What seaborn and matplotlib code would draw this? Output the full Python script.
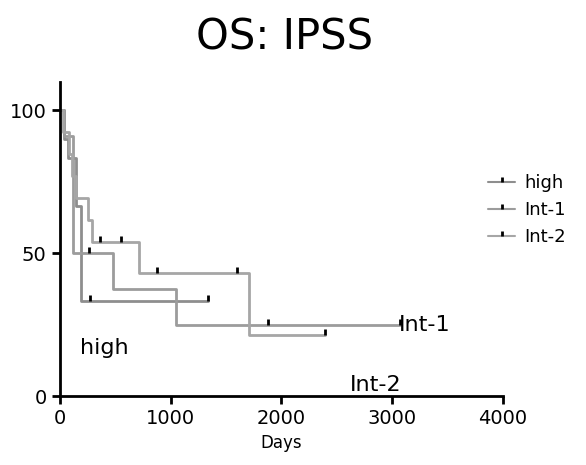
import numpy as np
import pandas as pd
import seaborn as sns
import matplotlib
matplotlib.use('Agg')
import matplotlib.pyplot as plt
from matplotlib.lines import Line2D

# step points (days, % survival)
high_days = [0, 35, 70, 150, 190, 1340]
high_surv = [100, 90, 83.3, 66.7, 33.3, 33.3]
high_cens_days = [277, 1340]
high_cens_surv = [33.3, 33.3]

int1_days = [0, 40, 115, 480, 1050, 3070]
int1_surv = [100, 91, 50, 37.5, 25, 25]
int1_cens_days = [265, 1880, 3070]
int1_cens_surv = [50, 25, 25]

int2_days = [0, 30, 80, 110, 150, 253, 290, 716, 1707, 2393]
int2_surv = [100, 92.3, 84.6, 76.9, 69.2, 61.5, 53.8, 43.1, 21.5, 21.5]
int2_cens_days = [361, 557, 879, 1604, 2393]
int2_cens_surv = [53.8, 53.8, 43.1, 43.1, 21.5]

groups = ['high', 'Int-1', 'Int-2']
colors = ['#8e8e8e', '#9c9c9c', '#a6a6a6']

df = pd.concat([
    pd.DataFrame({'days': high_days, 'surv': high_surv, 'group': 'high'}),
    pd.DataFrame({'days': int1_days, 'surv': int1_surv, 'group': 'Int-1'}),
    pd.DataFrame({'days': int2_days, 'surv': int2_surv, 'group': 'Int-2'}),
])
cens = pd.concat([
    pd.DataFrame({'days': high_cens_days, 'surv': high_cens_surv}),
    pd.DataFrame({'days': int1_cens_days, 'surv': int1_cens_surv}),
    pd.DataFrame({'days': int2_cens_days, 'surv': int2_cens_surv}),
])

sns.set_style('ticks')
plt.rcParams['font.family'] = ['DejaVu Sans']
plt.rcParams['text.color'] = 'black'

fig = plt.figure(figsize=(5.86, 4.65), dpi=100)
ax = fig.add_axes([0.102, 0.148, 0.756, 0.676])

sns.lineplot(data=df, x='days', y='surv', hue='group', palette=colors,
             drawstyle='steps-post', estimator=None, sort=False,
             linewidth=2, legend=False, ax=ax)
tick = [(0, 0), (0, 1)]
ax.plot(cens['days'], cens['surv'], linestyle='none', marker=tick,
        markersize=9, markeredgewidth=2, color='black')

ax.set_xlim(0, 4000)
ax.set_ylim(0, 110)
ax.set_xticks([0, 1000, 2000, 3000, 4000])
ax.set_yticks([0, 50, 100])
ax.tick_params(direction='out', length=6, width=2, labelsize=14,
               colors='black', labelcolor='black')
for s in ['left', 'bottom']:
    ax.spines[s].set_linewidth(2)
    ax.spines[s].set_color('black')
sns.despine(ax=ax)
ax.set_xlabel('Days', fontsize=12, color='black')
ax.set_ylabel('')

ax.text(180, 17, 'high', fontsize=16, va='center', ha='left', color='black')
ax.text(3060, 25, 'Int-1', fontsize=16, va='center', ha='left', color='black')
ax.text(2620, 4, 'Int-2', fontsize=16, va='center', ha='left', color='black')

fig.suptitle('OS: IPSS', fontsize=30, fontweight='medium', color='black',
             x=0.485, y=0.965)

handles = [Line2D([], [], color=c, linewidth=1.5, marker=tick, markersize=7,
                  markeredgecolor='black', markeredgewidth=2) for c in colors]
fig.legend(handles, groups, loc='upper left', bbox_to_anchor=(0.805, 0.66),
           frameon=False, fontsize=13, handlelength=1.5, handletextpad=0.5,
           labelspacing=0.5, labelcolor='black')

fig.savefig('out.png', dpi=100)
